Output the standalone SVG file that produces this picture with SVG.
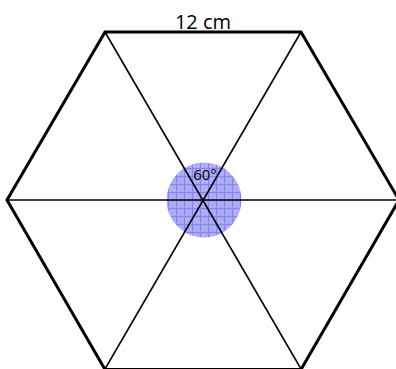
<svg xmlns="http://www.w3.org/2000/svg" width="396" height="369" viewBox="0 0 396 369">
<style>
.edge{fill:none;stroke:#000;stroke-width:3;stroke-linejoin:miter}
.diag{stroke:#000;stroke-width:1.6}
.lbl{font-family:"Open Sans","Liberation Sans",sans-serif;fill:#000}
</style>
<defs>
<pattern id="grid" width="8" height="8" patternUnits="userSpaceOnUse">
<rect width="8" height="8" fill="#a9a9f8"/>
<path d="M0 0.5H8M0.5 0V8" stroke="#8585ec" stroke-width="1"/>
<rect x="3" y="3" width="1" height="1" fill="#d4d4fc"/>
<rect x="6" y="5" width="1" height="1" fill="#d4d4fc"/>
<rect x="2" y="6" width="1" height="1" fill="#d4d4fc"/>
</pattern>
</defs>
<rect width="396" height="369" fill="#fff"/>
<g id="angle">
<circle cx="204" cy="200" r="37.5" fill="url(#grid)"/>
</g>
<g id="connectors">
<line class="diag" x1="7" y1="200" x2="399" y2="200"/>
<line class="diag" x1="105" y1="32" x2="301" y2="369"/>
<line class="diag" x1="301" y1="32" x2="105" y2="369"/>
</g>
<g id="hexagon">
<polygon class="edge" points="105,32 301,32 399,200 301,369.5 105,369.5 7,200"/>
</g>
<g id="labels">
<text class="lbl" x="203" y="29" font-size="20" text-anchor="middle">12 cm</text>
<text class="lbl" x="205" y="180" font-size="15" text-anchor="middle">60°</text>
</g>
</svg>
